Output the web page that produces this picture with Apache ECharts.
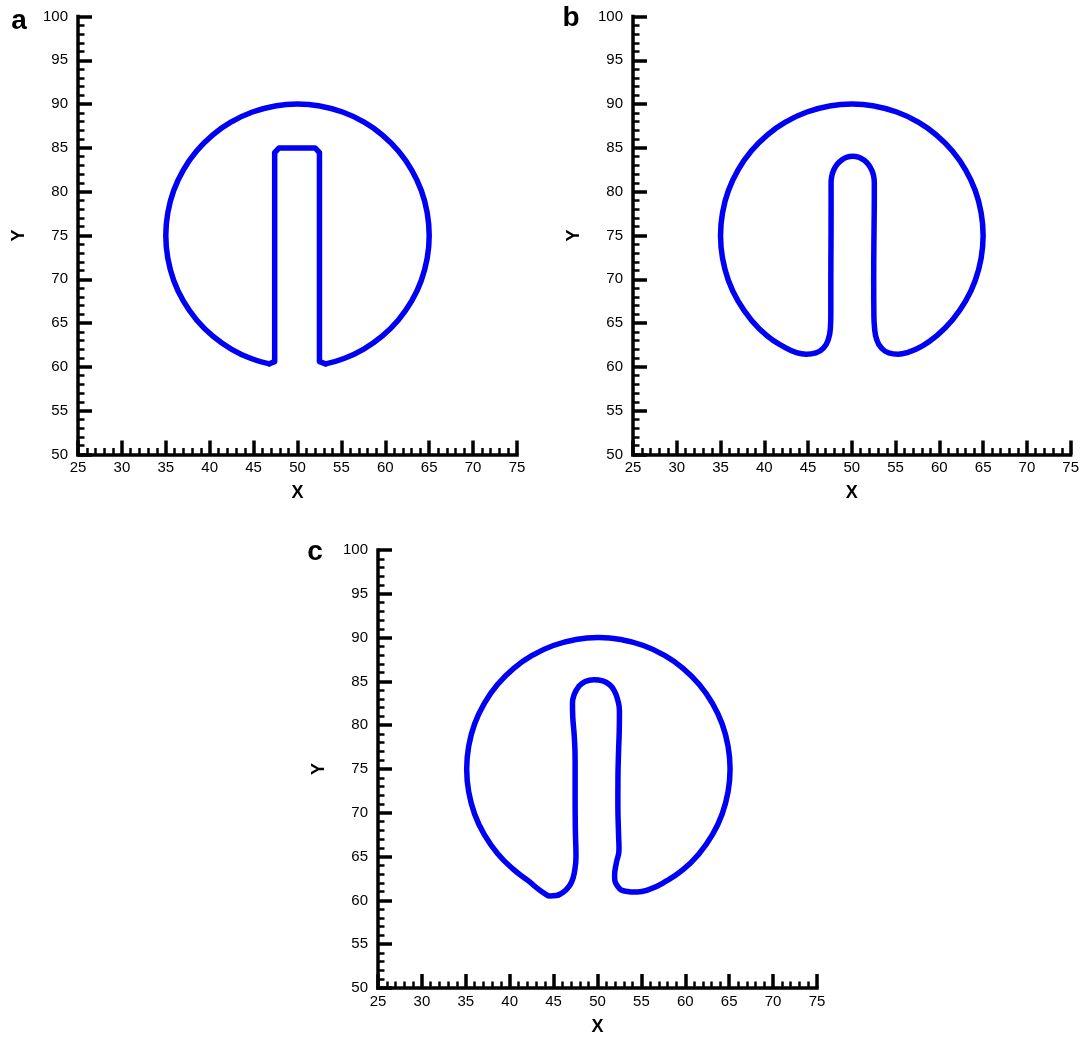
<!DOCTYPE html>
<html>
<head>
<meta charset="utf-8">
<script src="https://cdn.jsdelivr.net/npm/echarts@6/dist/echarts.min.js"></script>
<style>
  html, body { margin: 0; padding: 0; background: #ffffff; }
  #chart { width: 1082px; height: 1038px; }
</style>
</head>
<body>
<div id="chart"></div>
<script>
// Axis ranges and tick spacing shared by the three panels
const xRange = [25, 75];
const yRange = [50, 100];
const majorStep = 5;
const minorPerMajor = 5;
const panelLetters = ['a', 'b', 'c'];
const axisNames = ['X', 'Y'];

// Panel a: circular rim of the slotted disk (open at the bottom)
const rimA = [
  [46.80, 60.35], [44.87, 60.90], [42.50, 62.01], [40.36, 63.51], [38.51, 65.36],
  [37.01, 67.50], [35.90, 69.87], [35.23, 72.40], [35.00, 75.00], [35.23, 77.60],
  [35.90, 80.13], [37.01, 82.50], [38.51, 84.64], [40.36, 86.49], [42.50, 87.99],
  [44.87, 89.10], [47.40, 89.77], [50.00, 90.00], [52.60, 89.77], [55.13, 89.10],
  [57.50, 87.99], [59.64, 86.49], [61.49, 84.64], [62.99, 82.50], [64.10, 80.13],
  [64.77, 77.60], [65.00, 75.00], [64.77, 72.40], [64.10, 69.87], [62.99, 67.50],
  [61.49, 65.36], [59.64, 63.51], [57.50, 62.01], [55.13, 60.90], [53.20, 60.35]
];

// Panel a: straight-walled slot
const slotA = [
  [46.80, 60.35], [47.40, 60.60], [47.40, 84.45], [47.90, 85.00], [52.00, 85.00],
  [52.50, 84.45], [52.50, 60.60], [53.20, 60.35]
];

// Panel b: smoothed contour
const contourB = [
  [64.77, 72.40], [65.00, 75.00], [64.77, 77.60], [64.10, 80.13], [62.99, 82.50],
  [61.49, 84.64], [59.64, 86.49], [57.50, 87.99], [55.13, 89.10], [52.60, 89.77],
  [50.00, 90.00], [47.40, 89.77], [44.87, 89.10], [42.50, 87.99], [40.36, 86.49],
  [38.51, 84.64], [37.01, 82.50], [35.90, 80.13], [35.23, 77.60], [35.00, 75.00],
  [35.23, 72.40], [35.90, 69.87], [37.01, 67.50], [38.51, 65.36], [40.36, 63.51],
  [42.30, 62.25], [43.60, 61.65], [44.80, 61.45], [45.90, 61.60], [46.80, 62.20],
  [47.30, 63.10], [47.55, 64.40], [47.60, 66.00], [47.60, 70.00], [47.62, 74.00],
  [47.63, 78.00], [47.63, 81.00], [47.71, 81.79], [47.96, 82.53], [48.35, 83.16],
  [48.87, 83.64], [49.46, 83.95], [50.10, 84.05], [50.74, 83.95], [51.34, 83.64],
  [51.85, 83.16], [52.24, 82.53], [52.49, 81.79], [52.57, 81.00], [52.56, 78.00],
  [52.52, 74.00], [52.50, 70.00], [52.52, 66.00], [52.60, 64.40], [52.85, 63.10],
  [53.35, 62.20], [54.20, 61.60], [55.30, 61.45], [56.50, 61.70], [57.80, 62.25],
  [59.64, 63.51], [61.49, 65.36], [62.99, 67.50], [64.10, 69.87], [64.77, 72.40],
  [65.00, 75.00]
];

// Panel c: distorted contour
const contourC = [
  [64.87, 72.40], [65.10, 75.00], [64.87, 77.60], [64.20, 80.13], [63.09, 82.50],
  [61.59, 84.64], [59.74, 86.49], [57.60, 87.99], [55.23, 89.10], [52.70, 89.77],
  [50.10, 90.00], [47.50, 89.77], [44.97, 89.10], [42.60, 87.99], [40.46, 86.49],
  [38.61, 84.64], [37.11, 82.50], [36.00, 80.13], [35.33, 77.60], [35.10, 75.00],
  [35.33, 72.40], [36.00, 69.87], [37.11, 67.50], [38.61, 65.36], [40.46, 63.51],
  [42.10, 62.25], [43.30, 61.25], [43.95, 60.80], [44.60, 60.50], [45.30, 60.55],
  [45.95, 60.85], [46.55, 61.35], [47.05, 62.10], [47.35, 63.10], [47.55, 65.00],
  [47.48, 68.00], [47.45, 72.00], [47.45, 76.00], [47.35, 78.80], [47.18, 81.00],
  [47.15, 82.50], [47.35, 83.50], [47.85, 84.40], [48.60, 85.00], [49.60, 85.20],
  [50.60, 85.05], [51.40, 84.60], [51.95, 83.85], [52.30, 82.90], [52.50, 81.60],
  [52.48, 79.50], [52.40, 77.00], [52.33, 74.00], [52.32, 71.00], [52.40, 67.50],
  [52.45, 65.80], [52.15, 64.30], [51.95, 62.80], [52.30, 61.60], [53.20, 61.05],
  [54.50, 60.95], [55.90, 61.25], [57.45, 61.98], [59.74, 63.51], [61.59, 65.36],
  [63.09, 67.50], [64.20, 69.87], [64.87, 72.40], [65.10, 75.00]
];

const FONT = '"Liberation Sans", Arial, Helvetica, sans-serif';
const INK = '#000000';
const LINE_BLUE = '#0000f5';

// Plot boxes of the three panels (pixels)
const boxes = [
  { left: 78,  top: 16.5, width: 439, height: 438 },
  { left: 633, top: 16.5, width: 439, height: 438 },
  { left: 378, top: 550,  width: 439, height: 438 }
];
// Where each panel letter sits
const letterPos = [[19, 21], [571, 18], [315, 552]];

function axisCommon() {
  return {
    type: 'value',
    interval: majorStep,
    splitLine: { show: false },
    axisLine: { show: true, onZero: false, lineStyle: { color: INK, width: 3.5, cap: 'square' } },
    axisTick: { show: true, inside: true, length: 14, lineStyle: { color: INK, width: 3.5 } },
    minorTick: { show: true, splitNumber: minorPerMajor, length: 6.5, lineStyle: { color: INK, width: 2.5 } },
    nameLocation: 'middle',
    nameTextStyle: { color: INK, fontSize: 18, fontWeight: 'bold', fontFamily: FONT }
  };
}

const grid = boxes.map(b => Object.assign({ containLabel: false }, b));

const xAxis = boxes.map((b, i) => Object.assign(axisCommon(), {
  gridIndex: i,
  min: xRange[0],
  max: xRange[1],
  name: axisNames[0],
  nameGap: 30,
  axisLabel: { color: INK, fontSize: 15, fontFamily: FONT, margin: 6, showMinLabel: true, showMaxLabel: true }
}));

const yAxis = boxes.map((b, i) => Object.assign(axisCommon(), {
  gridIndex: i,
  min: yRange[0],
  max: yRange[1],
  name: axisNames[1],
  nameGap: 50,
  axisLabel: { color: INK, fontSize: 15, fontFamily: FONT, margin: 10, showMinLabel: true, showMaxLabel: true }
}));

function contour(data, idx, smooth) {
  return {
    type: 'line',
    xAxisIndex: idx,
    yAxisIndex: idx,
    data: data,
    smooth: smooth,
    showSymbol: false,
    symbol: 'none',
    clip: false,
    silent: true,
    lineStyle: { color: LINE_BLUE, width: 5.5, cap: 'round', join: 'round' }
  };
}

const series = [
  contour(rimA, 0, 0.5),
  contour(slotA, 0, false),
  contour(contourB, 1, 0.5),
  contour(contourC, 2, 0.5)
];

const graphic = panelLetters.map((t, i) => ({
  type: 'text',
  x: letterPos[i][0],
  y: letterPos[i][1],
  style: {
    text: t,
    fill: INK,
    font: 'bold 28px ' + FONT,
    textAlign: 'center',
    textVerticalAlign: 'middle'
  }
}));

const chart = echarts.init(document.getElementById('chart'), null, { renderer: 'canvas' });
chart.setOption({
  animation: false,
  backgroundColor: '#ffffff',
  grid: grid,
  xAxis: xAxis,
  yAxis: yAxis,
  series: series,
  graphic: graphic
});
</script>
</body>
</html>
